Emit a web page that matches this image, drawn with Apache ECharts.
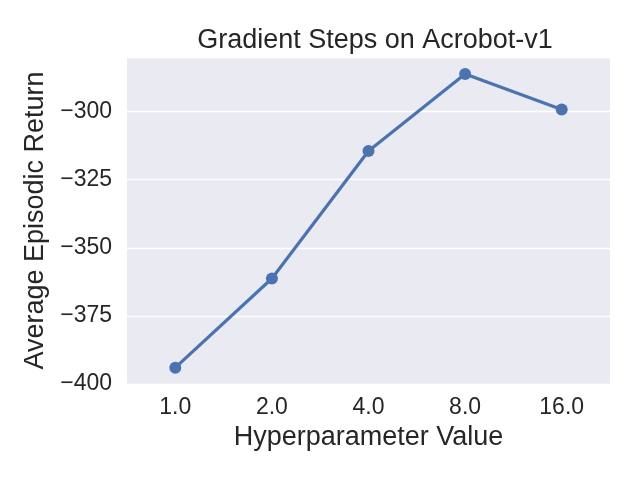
<!DOCTYPE html>
<html>
<head>
<meta charset="utf-8">
<script src="https://cdn.jsdelivr.net/npm/echarts@6/dist/echarts.min.js"></script>
<style>
  html, body { margin: 0; padding: 0; background: #ffffff; }
  #chart { width: 640px; height: 480px; }
</style>
</head>
<body>
<div id="chart"></div>
<script>
// hyperparameter values (categories)
const stepValues = ["1.0", "2.0", "4.0", "8.0", "16.0"];
// average episodic return per value
const avgReturns = [-394.0, -361.3, -314.5, -286.2, -299.3];

const chart = echarts.init(document.getElementById("chart"));
const font = "Liberation Sans, Arial, sans-serif";
const textColor = "#262626";

const option = {
  backgroundColor: "#ffffff",
  title: {
    text: "Gradient Steps on Acrobot-v1",
    left: 370,
    top: 22,
    textAlign: "center",
    textStyle: {fontFamily: font, fontSize: 27, fontWeight: "normal", color: textColor}
  },
  grid: {left: 127, right: 30, top: 57, bottom: 96, backgroundColor: "#EAEAF2", show: true, borderWidth: 0},
  xAxis: {
    type: "category",
    data: stepValues,
    boundaryGap: true,
    name: "Hyperparameter Value",
    nameLocation: "middle",
    nameGap: 38,
    nameTextStyle: {fontFamily: font, fontSize: 27, color: textColor},
    axisLine: {show: false},
    axisTick: {show: false},
    axisLabel: {margin: 12, fontFamily: font, fontSize: 23, color: textColor},
    splitLine: {show: false}
  },
  yAxis: {
    type: "value",
    min: -400,
    max: -280,
    interval: 25,
    name: "Average Episodic Return",
    nameLocation: "middle",
    nameGap: 73,
    nameTextStyle: {fontFamily: font, fontSize: 27, color: textColor},
    axisLine: {show: false},
    axisTick: {show: false},
    axisLabel: {
      margin: 15,
      fontFamily: font,
      fontSize: 23,
      color: textColor,
      showMaxLabel: false,
      formatter: (v) => String(v).replace("-", "\u2212")
    },
    splitLine: {show: true, lineStyle: {color: "#ffffff", width: 1.3}}
  },
  series: [{
    type: "line",
    data: avgReturns,
    symbol: "circle",
    symbolSize: 12,
    lineStyle: {color: "#4C72B0", width: 3.2},
    itemStyle: {color: "#4C72B0"},
    animation: false
  }]
};

chart.setOption(option);
</script>
</body>
</html>
